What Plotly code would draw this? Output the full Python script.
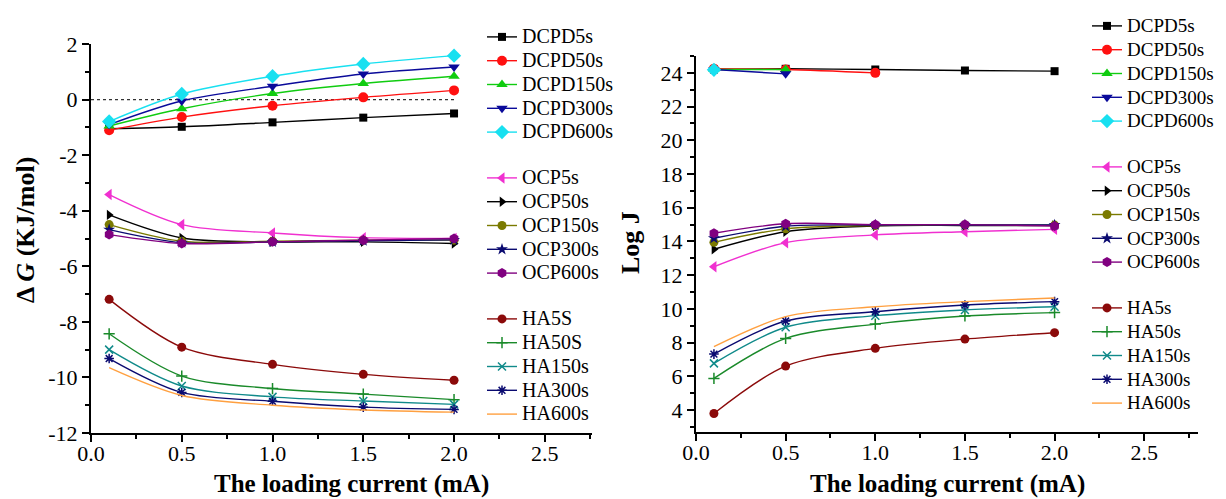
import plotly.graph_objects as go

# ---------------- data ----------------
current = [0.1, 0.5, 1.0, 1.5, 2.0]

series_names_left = ["DCPD5s", "DCPD50s", "DCPD150s", "DCPD300s", "DCPD600s",
                     "OCP5s", "OCP50s", "OCP150s", "OCP300s", "OCP600s",
                     "HA5S", "HA50S", "HA150s", "HA300s", "HA600s"]
series_names_right = ["DCPD5s", "DCPD50s", "DCPD150s", "DCPD300s", "DCPD600s",
                      "OCP5s", "OCP50s", "OCP150s", "OCP300s", "OCP600s",
                      "HA5s", "HA50s", "HA150s", "HA300s", "HA600s"]

# Left panel: Delta G (KJ/mol)
dg_dcpd5 = [-1.05, -0.98, -0.82, -0.65, -0.50]
dg_dcpd50 = [-1.10, -0.63, -0.22, 0.08, 0.33]
dg_dcpd150 = [-0.95, -0.33, 0.22, 0.58, 0.84]
dg_dcpd300 = [-0.90, -0.05, 0.48, 0.92, 1.17]
dg_dcpd600 = [-0.79, 0.20, 0.84, 1.28, 1.58]
dg_ocp5 = [-3.42, -4.50, -4.80, -4.97, -5.00]
dg_ocp50 = [-4.15, -4.98, -5.12, -5.12, -5.18]
dg_ocp150 = [-4.50, -5.10, -5.10, -5.06, -5.06]
dg_ocp300 = [-4.68, -5.15, -5.12, -5.08, -5.05]
dg_ocp600 = [-4.86, -5.18, -5.12, -5.06, -5.00]
dg_ha5 = [-7.19, -8.91, -9.53, -9.89, -10.10]
dg_ha50 = [-8.43, -9.95, -10.40, -10.60, -10.80]
dg_ha150 = [-9.00, -10.31, -10.70, -10.85, -10.97]
dg_ha300 = [-9.32, -10.54, -10.86, -11.07, -11.15]
dg_ha600 = [-9.65, -10.65, -11.00, -11.17, -11.25]

ref_x = [0.0, 2.0]
ref_y = [0.0, 0.0]

# Right panel: Log J
lj_dcpd5 = [24.20, 24.24, 24.20, 24.14, 24.10]
lj_dcpd50 = [24.25, 24.20, 24.00, None, None]
lj_dcpd150 = [24.20, 24.20, None, None, None]
lj_dcpd300 = [24.20, 23.94, None, None, None]
lj_dcpd600 = [24.18, None, None, None, None]
lj_ocp5 = [12.50, 13.93, 14.39, 14.58, 14.72]
lj_ocp50 = [13.54, 14.58, 14.92, 14.95, 14.95]
lj_ocp150 = [13.95, 14.75, 14.95, 14.97, 14.97]
lj_ocp300 = [14.19, 14.90, 14.98, 14.98, 14.98]
lj_ocp600 = [14.49, 15.05, 15.00, 15.00, 14.92]
lj_ha5 = [3.80, 6.61, 7.66, 8.21, 8.59]
lj_ha50 = [5.88, 8.25, 9.10, 9.58, 9.78]
lj_ha150 = [6.77, 8.91, 9.60, 9.94, 10.13]
lj_ha300 = [7.32, 9.28, 9.83, 10.23, 10.43]
lj_ha600 = [7.76, 9.54, 10.13, 10.43, 10.65]

x_ticks = [0.0, 0.5, 1.0, 1.5, 2.0, 2.5]
x_ticklabels = ["0.0", "0.5", "1.0", "1.5", "2.0", "2.5"]
dg_ticks = [-12, -10, -8, -6, -4, -2, 0, 2]
dg_ticklabels = ["-12", "-10", "-8", "-6", "-4", "-2", "0", "2"]
lj_ticks = [4, 6, 8, 10, 12, 14, 16, 18, 20, 22, 24]
lj_ticklabels = ["4", "6", "8", "10", "12", "14", "16", "18", "20", "22", "24"]

# ---------------- styles ----------------
FONT = "Liberation Serif"
styles = [
    dict(color="#000000", symbol="square", size=8, group="DCPD"),
    dict(color="#FF1010", symbol="circle", size=10, group="DCPD"),
    dict(color="#10CC10", symbol="triangle-up", size=10, group="DCPD"),
    dict(color="#0A0A9A", symbol="triangle-down", size=10, group="DCPD"),
    dict(color="#18E0F0", symbol="diamond", size=11, group="DCPD"),
    dict(color="#F030D0", symbol="triangle-left", size=10, group="OCP"),
    dict(color="#000000", symbol="triangle-right", size=9, group="OCP"),
    dict(color="#7A7A00", symbol="circle", size=9, group="OCP"),
    dict(color="#0A0A70", symbol="star", size=9, group="OCP"),
    dict(color="#800080", symbol="hexagon", size=10, group="OCP"),
    dict(color="#8B0A0A", symbol="circle", size=9, group="HA"),
    dict(color="#1A8A2A", symbol="cross-thin", size=8, group="HA"),
    dict(color="#108A8A", symbol="x-thin", size=8, group="HA"),
    dict(color="#0A0A70", symbol="asterisk", size=8, group="HA"),
    dict(color="#FFA040", symbol=None, size=0, group="HA"),
]

left_data = [dg_dcpd5, dg_dcpd50, dg_dcpd150, dg_dcpd300, dg_dcpd600,
             dg_ocp5, dg_ocp50, dg_ocp150, dg_ocp300, dg_ocp600,
             dg_ha5, dg_ha50, dg_ha150, dg_ha300, dg_ha600]
right_data = [lj_dcpd5, lj_dcpd50, lj_dcpd150, lj_dcpd300, lj_dcpd600,
              lj_ocp5, lj_ocp50, lj_ocp150, lj_ocp300, lj_ocp600,
              lj_ha5, lj_ha50, lj_ha150, lj_ha300, lj_ha600]

fig = go.Figure()

# reference dotted line at zero (left panel)
fig.add_trace(go.Scatter(x=ref_x, y=ref_y, mode="lines", showlegend=False,
                         line=dict(color="#333333", width=1.2, dash="dot"),
                         xaxis="x", yaxis="y", hoverinfo="skip"))


def add_series(names, datas, xa, ya, legend, fsize):
    for name, vals, st in zip(names, datas, styles):
        thin = st["symbol"] in ("cross-thin", "x-thin", "asterisk")
        if st["symbol"] is None:
            mode = "lines"
            marker = None
        else:
            mode = "lines+markers"
            marker = dict(symbol=st["symbol"], size=st["size"], color=st["color"],
                          line=dict(width=1.5 if thin else 0, color=st["color"]))
        fig.add_trace(go.Scatter(
            x=current, y=vals, mode=mode,
            name=f'<span style="font-size:{fsize}px">{name}</span>',
            legendgroup=legend + st["group"], legend=legend,
            line=dict(color=st["color"], width=1.4, shape="spline", smoothing=0.9),
            marker=marker, xaxis=xa, yaxis=ya,
        ))


add_series(series_names_left, left_data, "x", "y", "legend", 20)
add_series(series_names_right, right_data, "x2", "y2", "legend2", 19)

# The page body has an 8px default margin: size the figure to fit the window
OFF = 8
W, H = 1226 - OFF, 499 - OFF
# pixel geometry in window coordinates
Lx0, Lx1, Ly0, Ly1 = 91, 592, 44, 433
Rx0, Rx1, Ry0, Ry1 = 696, 1198, 56, 432


def px(v):
    return (v - OFF) / W


def py(v):
    return 1 - (v - OFF) / H


def axis_style(standoff):
    return dict(showline=True, linecolor="black", linewidth=2, showgrid=False,
                zeroline=False, ticks="outside", ticklen=7, tickwidth=2,
                tickcolor="black", mirror=False, automargin=False,
                tickfont=dict(family=FONT, size=22, color="black"),
                ticklabelstandoff=standoff)


def minor(step):
    return dict(tickmode="linear", tick0=0, dtick=step, ticks="outside",
                ticklen=4, tickwidth=2, tickcolor="black")


fig.update_layout(
    width=W, height=H,
    margin=dict(l=0, r=0, t=0, b=0, autoexpand=False),
    paper_bgcolor="white", plot_bgcolor="white",
    font=dict(family=FONT, color="black"),
    xaxis=dict(domain=[px(Lx0), px(Lx1)], range=[0, 2.76], anchor="y",
               tickmode="array", tickvals=x_ticks, ticktext=x_ticklabels,
               minor=minor(0.25), **axis_style(-7)),
    yaxis=dict(domain=[py(Ly1), py(Ly0)], range=[-12, 2], anchor="x",
               tickmode="array", tickvals=dg_ticks, ticktext=dg_ticklabels,
               minor=minor(1), **axis_style(0)),
    xaxis2=dict(domain=[px(Rx0), px(Rx1)], range=[0, 2.8], anchor="y2",
                tickmode="array", tickvals=x_ticks, ticktext=x_ticklabels,
                minor=minor(0.25), **axis_style(-7)),
    yaxis2=dict(domain=[py(Ry1), py(Ry0)], range=[2.7, 25], anchor="x2",
                tickmode="array", tickvals=lj_ticks, ticktext=lj_ticklabels,
                minor=minor(1), **axis_style(0)),
    legend=dict(x=px(482), y=py(20), xanchor="left", yanchor="top",
                bgcolor="rgba(0,0,0,0)", borderwidth=0, traceorder="grouped",
                tracegroupgap=22, font=dict(family=FONT, size=16, color="black"),
                itemwidth=30),
    legend2=dict(x=px(1087), y=py(9), xanchor="left", yanchor="top",
                 bgcolor="rgba(0,0,0,0)", borderwidth=0, traceorder="grouped",
                 tracegroupgap=22, font=dict(family=FONT, size=16, color="black"),
                 itemwidth=30),
    showlegend=True,
)

title_font = dict(family=FONT, size=25, color="black")
fig.add_annotation(text="<b>The loading current (mA)</b>", xref="paper", yref="paper",
                   x=px(351), y=py(499), xanchor="center", yanchor="bottom",
                   borderpad=0, showarrow=False, font=title_font)
fig.add_annotation(text="<b>The loading current (mA)</b>", xref="paper", yref="paper",
                   x=px(948), y=py(499), xanchor="center", yanchor="bottom",
                   borderpad=0, showarrow=False, font=title_font)
fig.add_annotation(text="<b>Δ <i>G</i> (KJ/mol)</b>", xref="paper", yref="paper",
                   x=px(25), y=py(230), xanchor="center", yanchor="middle",
                   textangle=-90, showarrow=False, font=dict(family=FONT, size=26, color="black"))
fig.add_annotation(text="<b>Log J</b>", xref="paper", yref="paper",
                   x=px(631), y=py(243), xanchor="center", yanchor="middle",
                   textangle=-90, showarrow=False, font=dict(family=FONT, size=26, color="black"))

fig.write_html("out.html")
